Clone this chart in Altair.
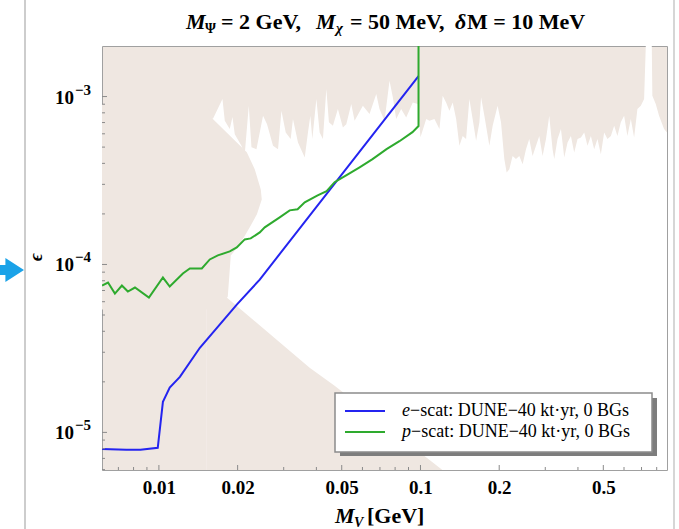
import altair as alt
import pandas as pd

# ---------------- data ----------------
XMIN, XMAX = 0.00606, 0.876      # M_V [GeV]
YMIN, YMAX = 5.97e-6, 2.0e-3     # epsilon

# e-scat: DUNE-40 kt.yr, 0 BGs (blue)
e_mass = [0.00606, 0.0075, 0.0085, 0.0099, 0.01036, 0.0110, 0.01203, 0.01434, 0.01985, 0.0243, 0.0983]
e_eps = [7.97e-6, 7.87e-6, 7.87e-6, 8.1e-6, 1.52e-5, 1.85e-5, 2.14e-5, 3.19e-5, 5.77e-5, 8.13e-5, 1.325e-3]

# p-scat: DUNE-40 kt.yr, 0 BGs (green)
p_mass = [0.00606, 0.00639, 0.00679, 0.00722, 0.00761, 0.0081, 0.00916, 0.01036, 0.011, 0.01235,
          0.01313, 0.01459, 0.01565, 0.0168, 0.01866, 0.01985, 0.02129, 0.02244, 0.0243, 0.02539,
          0.02896, 0.03162, 0.0339, 0.0361, 0.04045, 0.04377, 0.04696, 0.05218, 0.05852, 0.06558,
          0.07418, 0.0831, 0.0932, 0.0983, 0.0983]
p_eps = [7.49e-5, 7.81e-5, 6.71e-5, 7.49e-5, 6.90e-5, 7.29e-5, 6.35e-5, 8.36e-5, 7.39e-5, 8.84e-5,
         9.46e-5, 9.46e-5, 1.071e-4, 1.132e-4, 1.196e-4, 1.263e-4, 1.41e-4, 1.43e-4, 1.553e-4, 1.663e-4,
         1.908e-4, 2.10e-4, 2.13e-4, 2.345e-4, 2.58e-4, 2.73e-4, 3.09e-4, 3.40e-4, 3.79e-4, 4.24e-4,
         4.86e-4, 5.42e-4, 6.14e-4, 6.67e-4, 2.0e-3]

# upper (jagged) edge of the allowed (white) region
top_mass = [0.01524, 0.01608, 0.01750, 0.01786, 0.01866, 0.01911, 0.0195, 0.02068, 0.02129, 0.02206,
            0.02259, 0.02360, 0.02501, 0.02591, 0.02731, 0.02854, 0.02941, 0.03054, 0.0319, 0.03255,
            0.03402, 0.0361, 0.03714, 0.03793, 0.0386, 0.04, 0.04117, 0.04238, 0.04366, 0.04467,
            0.04626, 0.04834, 0.05052, 0.05205, 0.05438, 0.05599, 0.06023, 0.06387, 0.06777, 0.06974,
            0.07288, 0.07615, 0.0784, 0.08076, 0.08437, 0.0882, 0.09346, 0.09765, 0.1, 0.1052,
            0.1082, 0.1131, 0.1182, 0.1216, 0.1253, 0.129, 0.1328, 0.1369, 0.1409, 0.145,
            0.1494, 0.1538, 0.1583, 0.1632, 0.168, 0.1705, 0.1755, 0.1834, 0.1888, 0.1972,
            0.2032, 0.2092, 0.2135, 0.2186, 0.225, 0.2318, 0.2387, 0.2458, 0.2532, 0.2606,
            0.2683, 0.2765, 0.2846, 0.293, 0.3019, 0.3107, 0.3199, 0.3247, 0.3342, 0.3444,
            0.3545, 0.365, 0.376, 0.387, 0.3986, 0.4107, 0.4227, 0.435, 0.4482, 0.4614,
            0.475, 0.4894, 0.5038, 0.5187, 0.5345, 0.5502, 0.5663, 0.5834, 0.6006, 0.6182,
            0.6371, 0.6558, 0.6751, 0.6956, 0.7161, 0.7268, 0.7662, 0.77, 0.7934, 0.8169,
            0.8537, 0.876]
top_eps = [8.42e-4, 7.34e-4, 9.66e-4, 7.17e-4, 6.40e-4, 7.55e-4, 5.97e-4, 5.09e-4, 4.54e-4, 8.81e-4,
           4.99e-4, 4.86e-4, 7.68e-4, 6.85e-4, 5.09e-4, 4.86e-4, 8.23e-4, 6.11e-4, 5.58e-4, 7.34e-4,
           5.33e-4, 4.34e-4, 6.11e-4, 7.68e-4, 5.58e-4, 9.66e-4, 6.11e-4, 5.58e-4, 1.109e-3, 7.02e-4,
           6.69e-4, 8.42e-4, 6.55e-4, 6.85e-4, 9.02e-4, 7.17e-4, 8.81e-4, 7.86e-4, 1.035e-3, 8.42e-4,
           7.17e-4, 1.243e-3, 9.89e-4, 7.34e-4, 8.42e-4, 7.51e-4, 9.23e-4, 9.02e-4, 5.73e-4, 7.34e-4,
           7.17e-4, 7.34e-4, 6.40e-4, 1.011e-3, 9.23e-4, 8.23e-4, 9.23e-4, 7.34e-4, 5.09e-4, 5.83e-4,
           5.58e-4, 9.66e-4, 7.34e-4, 5.45e-4, 7.02e-4, 9.89e-4, 7.68e-4, 5.09e-4, 6.69e-4, 8.81e-4,
           7.02e-4, 4.24e-4, 3.53e-4, 3.69e-4, 4.43e-4, 4.24e-4, 4.43e-4, 3.95e-4, 4.86e-4, 5.58e-4,
           4.43e-4, 5.09e-4, 5.83e-4, 4.43e-4, 5.58e-4, 7.68e-4, 4.86e-4, 4.24e-4, 5.58e-4, 6.40e-4,
           4.34e-4, 5.33e-4, 5.83e-4, 4.64e-4, 5.58e-4, 5.71e-4, 6.11e-4, 5.09e-4, 5.83e-4, 4.86e-4,
           5.58e-4, 4.54e-4, 6.11e-4, 5.58e-4, 5.83e-4, 6.69e-4, 5.83e-4, 7.02e-4, 7.68e-4, 5.83e-4,
           7.34e-4, 5.71e-4, 8.42e-4, 8.81e-4, 9.66e-4, 2.0e-3, 2.0e-3, 1.011e-3, 9.02e-4, 7.68e-4,
           6.40e-4, 6.11e-4]

# lower excluded region (below the diagonal edge)
low_mass = [0.01524, 0.01817, 0.0377, 0.04696, 0.1213]
low_eps = [8.02e-5, 6.35e-5, 2.43e-5, 1.895e-5, 5.97e-6]

# left excluded "bulge" (edge given as mass vs epsilon)
bulge_eps = [5.39e-5, 6.44e-5, 1.132e-4, 1.316e-4, 1.663e-4, 1.99e-4, 2.44e-4, 2.80e-4, 3.69e-4, 4.66e-4, 7.34e-4, 9.02e-4]
bulge_mass = [0.0171, 0.01834, 0.01883, 0.02037, 0.02225, 0.0237, 0.02473, 0.02452, 0.02325, 0.02168, 0.01608, 0.01524]

# ticks and tick labels
x_major = [0.01, 0.02, 0.05, 0.1, 0.2, 0.5]
x_minor = [0.007, 0.008, 0.009, 0.03, 0.04, 0.06, 0.07, 0.08, 0.09, 0.3, 0.4, 0.6, 0.7, 0.8]
y_major = [1e-5, 1e-4, 1e-3]
y_label_base = ["10", "10", "10"]
y_label_exp = ["\u22125", "\u22124", "\u22123"]
y_minor = [6e-6, 7e-6, 8e-6, 9e-6, 2e-5, 3e-5, 4e-5, 5e-5, 6e-5, 7e-5, 8e-5, 9e-5,
           2e-4, 3e-4, 4e-4, 5e-4, 6e-4, 7e-4, 8e-4, 9e-4]

legend_rest = "\u2212scat: DUNE\u221240 kt\u00b7yr, 0 BGs"

# ---------------- styling ----------------
BEIGE = "#efe7e1"
BLUE = "#2424f0"
GREEN = "#2eaa2e"
SERIF = "Liberation Serif"
W, H = 565, 424

xs = alt.Scale(type="log", domain=[XMIN, XMAX], nice=False, clamp=False)
ys = alt.Scale(type="log", domain=[YMIN, YMAX], nice=False)

xaxis = alt.Axis(values=x_major, format=".2~f", title=None, ticks=False, domain=False, grid=False,
                 labelFont=SERIF, labelFontWeight="bold", labelFontSize=19, labelColor="black",
                 labelPadding=8, labelOverlap=False, labelFlush=False)


def X(field):
    return alt.X(f"{field}:Q", scale=xs, axis=xaxis)


def Y(field):
    return alt.Y(f"{field}:Q", scale=ys, axis=None)


one = pd.DataFrame({"k": [0]})


def txt(s, x, y, size, italic=False, bold=True, align="left", angle=0, baseline="alphabetic"):
    kw = dict(text=s, font=SERIF, fontSize=size, fontStyle="italic" if italic else "normal",
              fontWeight="bold" if bold else "normal", align=align, baseline=baseline, color="black")
    if angle:
        kw["angle"] = angle
    return alt.Chart(one).mark_text(**kw).encode(x=alt.value(x), y=alt.value(y))


# ---------------- layers ----------------
top_df = pd.DataFrame({"m": top_mass, "eps": top_eps})
white = alt.Chart(top_df).mark_area(color="white", opacity=1).encode(
    x=X("m"), y=Y("eps"), y2=alt.datum(YMIN))

low_df = pd.DataFrame({"m": low_mass, "eps": low_eps})
lower = alt.Chart(low_df).mark_area(color=BEIGE, opacity=1).encode(
    x=X("m"), y=Y("eps"), y2=alt.datum(YMIN))

bulge_df = pd.DataFrame({"m": bulge_mass, "eps": bulge_eps})
bulge = alt.Chart(bulge_df).mark_area(color=BEIGE, opacity=1, orient="horizontal").encode(
    y=Y("eps"), x=X("m"), x2=alt.datum(XMIN))

e_df = pd.DataFrame({"m": e_mass, "eps": e_eps, "i": list(range(len(e_mass)))})
e_line = alt.Chart(e_df).mark_line(color=BLUE, strokeWidth=2, clip=True).encode(
    x=X("m"), y=Y("eps"), order="i:Q")

p_df = pd.DataFrame({"m": p_mass, "eps": p_eps, "i": list(range(len(p_mass)))})
p_line = alt.Chart(p_df).mark_line(color=GREEN, strokeWidth=2, clip=True).encode(
    x=X("m"), y=Y("eps"), order="i:Q")

TICKC = "#8a8a8a"
ytick_maj = alt.Chart(pd.DataFrame({"v": y_major})).mark_rule(color=TICKC, strokeWidth=1).encode(
    y=Y("v"), x=alt.value(0), x2=alt.value(5))
ytick_min = alt.Chart(pd.DataFrame({"v": y_minor})).mark_rule(color=TICKC, strokeWidth=1).encode(
    y=Y("v"), x=alt.value(0), x2=alt.value(3))
xtick_maj = alt.Chart(pd.DataFrame({"v": x_major})).mark_rule(color=TICKC, strokeWidth=1).encode(
    x=X("v"), y=alt.value(H), y2=alt.value(H - 5))
xtick_min = alt.Chart(pd.DataFrame({"v": x_minor})).mark_rule(color=TICKC, strokeWidth=1).encode(
    x=X("v"), y=alt.value(H), y2=alt.value(H - 3))

# y tick labels 10^-n (base + raised exponent)
ylab_df = pd.DataFrame({"v": y_major, "base": y_label_base, "exp": y_label_exp})
ylab_base = alt.Chart(ylab_df).mark_text(
    font=SERIF, fontWeight="bold", fontSize=19, align="right", baseline="middle", color="black", dy=1).encode(
    y=Y("v"), x=alt.value(-28), text="base:N")
ylab_exp = alt.Chart(ylab_df).mark_text(
    font=SERIF, fontWeight="bold", fontSize=15, align="left", baseline="middle", color="black", dy=-7).encode(
    y=Y("v"), x=alt.value(-27), text="exp:N")

# legend box (drawn by hand, Mathematica style with drop shadow)
leg_shadow = alt.Chart(one).mark_rect(color="#7d7d7d").encode(
    x=alt.value(238), x2=alt.value(555), y=alt.value(352), y2=alt.value(410))
leg_box = alt.Chart(one).mark_rect(fill="white", stroke="#8c8c8c", strokeWidth=1.5).encode(
    x=alt.value(233), x2=alt.value(550), y=alt.value(347), y2=alt.value(406))
leg_blue = alt.Chart(one).mark_rule(color=BLUE, strokeWidth=2).encode(
    x=alt.value(243), x2=alt.value(283), y=alt.value(365))
leg_green = alt.Chart(one).mark_rule(color=GREEN, strokeWidth=2).encode(
    x=alt.value(243), x2=alt.value(283), y=alt.value(386))
leg_t1a = txt("e", 300, 370, 18, italic=True, bold=False)
leg_t1b = txt(legend_rest, 308, 370, 18, bold=False)
leg_t2a = txt("p", 300, 391, 18, italic=True, bold=False)
leg_t2b = txt(legend_rest, 309, 391, 18, bold=False)

# plot title
title_parts = [
    txt("M", 84, -17, 22, italic=True),
    txt("\u03a8", 103, -13, 14),
    txt("= 2 GeV,", 119, -17, 22),
    txt("M", 214, -17, 22, italic=True),
    txt("\u03c7", 234, -13, 15, italic=True),
    txt("= 50 MeV,", 248, -17, 22),
    txt("\u03b4", 353, -17, 22, italic=True),
    txt("M = 10 MeV", 365, -17, 22),
]

# axis titles
xtitle = [
    txt("M", 233, 477, 22, italic=True),
    txt("V", 252, 481, 14, italic=True),
    txt("[GeV]", 265, 477, 22),
]
ytitle = txt("\u03f5", -65, 211, 18, italic=True, align="center", angle=270, baseline="middle")

# surrounding page decorations of the screenshot
card_left = alt.Chart(one).mark_rule(color="#cdcdcd", strokeWidth=2).encode(
    x=alt.value(-77), y=alt.value(-46), y2=alt.value(483))
card_right = alt.Chart(one).mark_rule(color="#d6d6d6", strokeWidth=2).encode(
    x=alt.value(572), y=alt.value(-46), y2=alt.value(483))
arrow = alt.Chart(one).mark_point(
    shape="M -1 -0.42 L -0.55 -0.42 L -0.55 -1 L 1 0 L -0.55 1 L -0.55 0.42 L -1 0.42 Z",
    filled=True, size=576, color="#1aa2e8", opacity=1, strokeWidth=0).encode(
    x=alt.value(-90), y=alt.value(224))

chart = alt.layer(
    white, lower, bulge, e_line, p_line,
    ytick_maj, ytick_min, xtick_maj, xtick_min, ylab_base, ylab_exp,
    leg_shadow, leg_box, leg_blue, leg_green, leg_t1a, leg_t1b, leg_t2a, leg_t2b,
    *title_parts, *xtitle, ytitle, card_left, card_right, arrow,
).properties(
    width=W, height=H,
    padding={"left": 102, "top": 46, "right": 12, "bottom": 59},
    autosize=alt.AutoSizeParams(type="none"),
    background="white",
).configure_view(fill=BEIGE, stroke="#a0a0a0", strokeWidth=1)

chart.save("out.html", embed_options={"renderer": "svg", "actions": False})
